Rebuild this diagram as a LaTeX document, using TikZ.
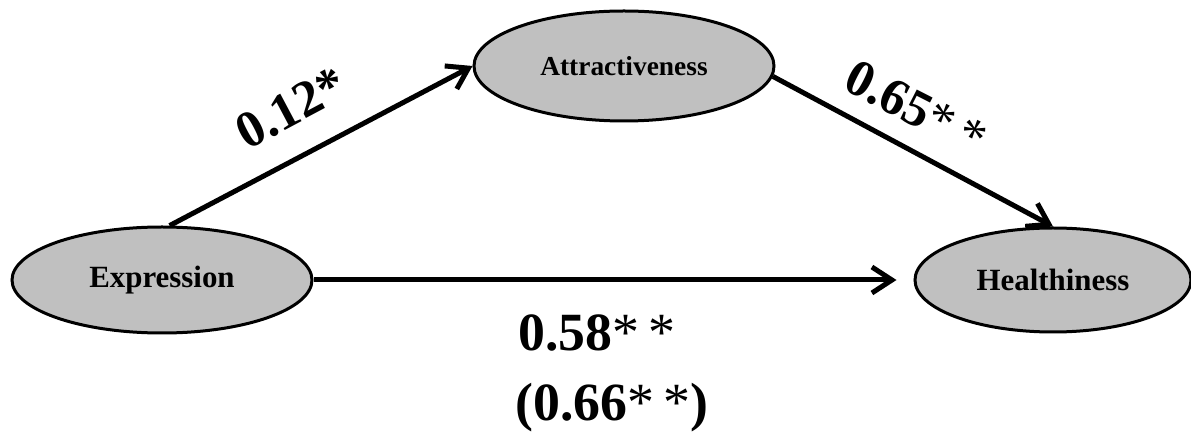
\documentclass[tikz,border=0pt]{standalone}
\usepackage{fontspec}
\setmainfont{Liberation Serif}
\usetikzlibrary{shapes.geometric,arrows.meta}
\definecolor{nodegray}{HTML}{C0C0C0}
\tikzset{
  var/.style={ellipse, draw=black, line width=3bp, fill=nodegray, inner sep=0pt,
    font=\bfseries\fontsize{31}{36}\selectfont},
  conn/.style={line width=5bp, -{Straight Barb[length=20bp,width=26bp]}},
  coef/.style={font=\bfseries\fontsize{52}{58}\selectfont, inner sep=0pt},
  bigcoef/.style={font=\bfseries\fontsize{54}{60}\selectfont, inner sep=0pt}
}
\begin{document}
\begin{tikzpicture}[x=1bp,y=-1bp]
\useasboundingbox (0,0) rectangle (1191,436);
\node[var, minimum width=300bp, minimum height=106bp] (ex) at (162,280) {Expression};
\node[var, minimum width=300bp, minimum height=110bp, font=\bfseries\fontsize{27.5}{32}\selectfont] (at) at (624,66) {Attractiveness};
\node[var, minimum width=276bp, minimum height=104bp] (he) at (1053,280) {Healthiness};
\draw[conn] (ex.82) -- (at.west);
\draw[conn, shorten >=17bp] (ex.east) -- (he.west);
\draw[conn] (at.-4) -- (he.north);
\node[coef, rotate=28] (c1) at (291,108) {0.12*};
\node[coef, rotate=-27] (c2) at (916,108) {0.65{\mdseries*\,*}};
\node[bigcoef] (c3) at (597,333) {0.58{\mdseries*\,*}};
\node[bigcoef] (c4) at (612,408) {(0.66{\mdseries*\,*})};
\end{tikzpicture}
\end{document}
